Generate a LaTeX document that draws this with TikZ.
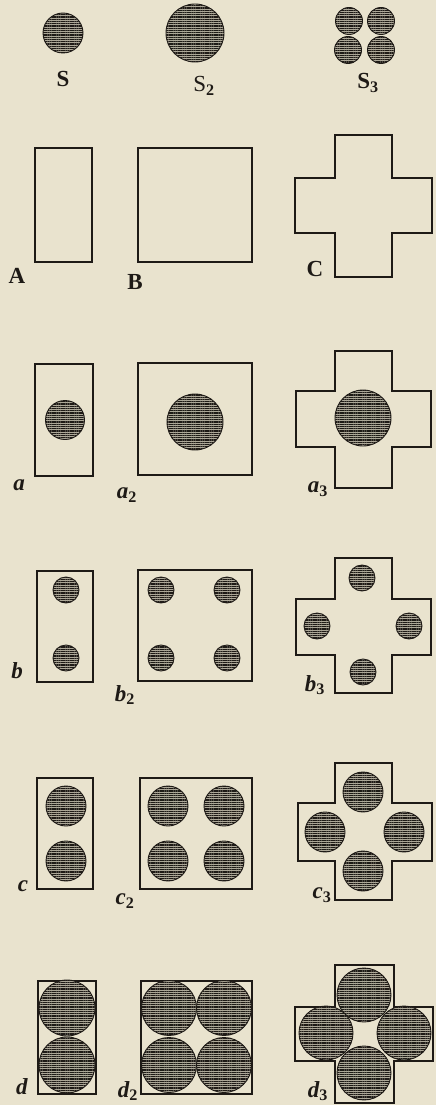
\documentclass[tikz,border=0pt]{standalone}
\usepackage{fontspec}
\setmainfont{Liberation Serif}
\definecolor{paper}{HTML}{E9E3CE}
\definecolor{ink}{HTML}{1E1A16}
\usetikzlibrary{patterns.meta}

% cross-shaped plate: x1 x2 x3 x4, y1 y2 y3 y4 (top to bottom)
\newcommand{\crossplate}[8]{%
  \draw[plate] (#2,#5) -- (#3,#5) -- (#3,#6) -- (#4,#6) -- (#4,#7) -- (#3,#7)
    -- (#3,#8) -- (#2,#8) -- (#2,#7) -- (#1,#7) -- (#1,#6) -- (#2,#6) -- cycle;}

\begin{document}
\begin{tikzpicture}[
  x=1pt,
  y=-1pt,
  line join=miter,
  plate/.style={draw=ink,line width=1.1pt},
  disc/.style={draw=ink,line width=0.9pt,preaction={fill=ink!30!paper},
    pattern={Lines[angle=0,distance=1.8pt,line width=0.85pt]},pattern color=ink},
  caplabel/.style={font=\fontsize{23}{23}\selectfont\bfseries,text=ink,inner sep=0pt},
  smalllabel/.style={font=\fontsize{23}{23}\selectfont\bfseries\itshape,text=ink,inner sep=0pt}
]
  \fill[paper] (0,0) rectangle (436,1105);
  \useasboundingbox (0,0) rectangle (436,1105);

  % sections S, S2, S3
  \draw[disc] (63,33) circle[radius=20pt];
  \draw[disc] (195,33) circle[radius=29pt];
  \draw[disc] (349,21) circle[radius=13.5pt];
  \draw[disc] (381,21) circle[radius=13.5pt];
  \draw[disc] (348,50) circle[radius=13.5pt];
  \draw[disc] (381,50) circle[radius=13.5pt];
  \node[caplabel] (labS) at (63,79) {S};
  \node[caplabel,font=\fontsize{23}{23}\selectfont] (labSii) at (204,86) {S$_{\mathbf{2}}$};
  \node[caplabel] (labSiii) at (368,83) {S$_{\mathbf{3}}$};

  % plates A, B, C
  \draw[plate] (35,148) rectangle (92,262);
  \draw[plate] (138,148) rectangle (252,262);
  \crossplate{295}{335}{392}{432}{135}{178}{233}{277}
  \node[caplabel] (labA) at (17,276) {A};
  \node[caplabel] (labB) at (135,282) {B};
  \node[caplabel] (labC) at (315,269) {C};

  % row a
  \draw[plate] (35,364) rectangle (93,476);
  \draw[disc] (65,420) circle[radius=19.5pt];
  \draw[plate] (138,363) rectangle (252,475);
  \draw[disc] (195,422) circle[radius=28pt];
  \crossplate{296}{335}{392}{431}{351}{391}{447}{488}
  \draw[disc] (363,418) circle[radius=28pt];
  \node[smalllabel] (laba) at (19,485) {a};
  \node[smalllabel] (labaii) at (127,495) {a$_{\mathbf{2}}$};
  \node[smalllabel] (labaiii) at (318,489) {a$_{\mathbf{3}}$};

  % row b
  \draw[plate] (37,571) rectangle (93,682);
  \draw[disc] (66,590) circle[radius=13pt];
  \draw[disc] (66,658) circle[radius=13pt];
  \draw[plate] (138,570) rectangle (252,681);
  \foreach \cx/\cy in {161/590,227/590,161/658,227/658}
    \draw[disc] (\cx,\cy) circle[radius=13pt];
  \crossplate{296}{335}{392}{431}{558}{599}{655}{693}
  \foreach \cx/\cy in {362/578,317/626,409/626,363/672}
    \draw[disc] (\cx,\cy) circle[radius=13pt];
  \node[smalllabel] (labb) at (17,671) {b};
  \node[smalllabel] (labbii) at (125,695) {b$_{\mathbf{2}}$};
  \node[smalllabel] (labbiii) at (315,685) {b$_{\mathbf{3}}$};

  % row c
  \draw[plate] (37,778) rectangle (93,889);
  \draw[disc] (66,806) circle[radius=20pt];
  \draw[disc] (66,861) circle[radius=20pt];
  \draw[plate] (140,778) rectangle (252,889);
  \foreach \cx/\cy in {168/806,224/806,168/861,224/861}
    \draw[disc] (\cx,\cy) circle[radius=20pt];
  \crossplate{298}{335}{392}{432}{763}{803}{861}{900}
  \foreach \cx/\cy in {363/792,325/832,404/832,363/871}
    \draw[disc] (\cx,\cy) circle[radius=20pt];
  \node[smalllabel] (labc) at (23,886) {c};
  \node[smalllabel] (labcii) at (125,901) {c$_{\mathbf{2}}$};
  \node[smalllabel] (labciii) at (322,895) {c$_{\mathbf{3}}$};

  % row d
  \draw[plate] (38,981) rectangle (96,1094);
  \draw[disc] (67,1008) circle[radius=28pt];
  \draw[disc] (67,1065) circle[radius=28pt];
  \draw[plate] (141,981) rectangle (252,1094);
  \foreach \cx/\cy in {169/1008,224/1008,169/1065,224/1065}
    \draw[disc] (\cx,\cy) circle[radius=27.5pt];
  \crossplate{295}{335}{394}{433}{965}{1007}{1061}{1103}
  \foreach \cx/\cy in {364/995,326/1033,404/1033,364/1073}
    \draw[disc] (\cx,\cy) circle[radius=27pt];
  \node[smalllabel] (labd) at (22,1087) {d};
  \node[smalllabel] (labdii) at (128,1091) {d$_{\mathbf{2}}$};
  \node[smalllabel] (labdiii) at (318,1091) {d$_{\mathbf{3}}$};
\end{tikzpicture}
\end{document}
